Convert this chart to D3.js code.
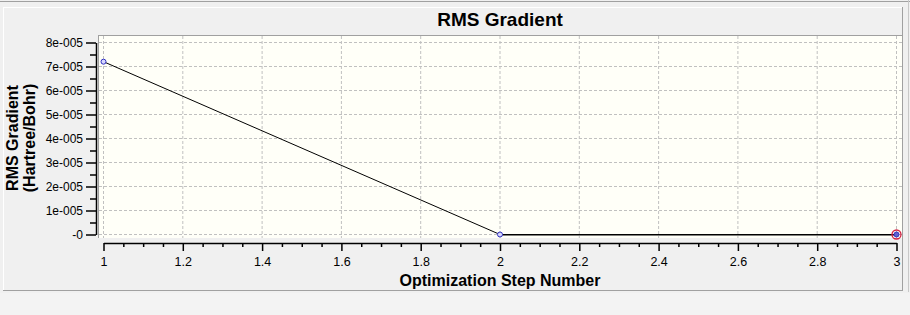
<!DOCTYPE html>
<html><head><meta charset="utf-8">
<script src="https://cdn.jsdelivr.net/npm/d3@7"></script>
<style>
html,body{margin:0;padding:0;background:#f0f0f0;}
svg{display:block;font-family:"Liberation Sans",Arial,sans-serif;}
</style></head>
<body>
<svg id="c" width="910" height="315"></svg>
<script>
const steps = [1, 2, 3];
const rmsGradient = [7.2e-5, 0.0, 0.0];
const xTicks = [1, 1.2, 1.4, 1.6, 1.8, 2, 2.2, 2.4, 2.6, 2.8, 3];
const xTickLabels = ["1","1.2","1.4","1.6","1.8","2","2.2","2.4","2.6","2.8","3"];
const xMinorTicks = [1.05,1.1,1.15,1.25,1.3,1.35,1.45,1.5,1.55,1.65,1.7,1.75,1.85,1.9,1.95,2.05,2.1,2.15,2.25,2.3,2.35,2.45,2.5,2.55,2.65,2.7,2.75,2.85,2.9,2.95];
const yTicks = [0, 1e-5, 2e-5, 3e-5, 4e-5, 5e-5, 6e-5, 7e-5, 8e-5];
const yTickLabels = ["-0","1e-005","2e-005","3e-005","4e-005","5e-005","6e-005","7e-005","8e-005"];
const yMinorTicks = [0.5e-5, 1.5e-5, 2.5e-5, 3.5e-5, 4.5e-5, 5.5e-5, 6.5e-5, 7.5e-5];
const chartTitle = "RMS Gradient";
const xTitle = "Optimization Step Number";
const yTitleLines = ["RMS Gradient", "(Hartree/Bohr)"];

const svg = d3.select("#c");
// frame
svg.append("rect").attr("x",0).attr("y",0).attr("width",910).attr("height",315).attr("fill","#f0f0f0");
svg.append("line").attr("x1",0).attr("x2",910).attr("y1",1.5).attr("y2",1.5).attr("stroke","#a0a0a0");
svg.append("rect").attr("x",3.5).attr("y",7.5).attr("width",899).attr("height",283)
  .attr("fill","#f0f0f0").attr("stroke","#ffffff");
svg.append("line").attr("x1",3).attr("x2",903).attr("y1",290.5).attr("y2",290.5).attr("stroke","#a0a0a0");
svg.append("line").attr("x1",902.5).attr("x2",902.5).attr("y1",7).attr("y2",291).attr("stroke","#a0a0a0");
svg.append("line").attr("x1",908.5).attr("x2",908.5).attr("y1",0).attr("y2",292).attr("stroke","#c8c8c8");
svg.append("rect").attr("x",0).attr("y",293).attr("width",910).attr("height",22).attr("fill","#f3f3f3");

const x = d3.scaleLinear().domain([1,3]).range([103.5, 896.5]);
const y = d3.scaleLinear().domain([0,8e-5]).range([234.5, 42.5]);

// plot background
svg.append("rect").attr("x",98).attr("y",35).attr("width",804).attr("height",203).attr("fill","#fffff8");
svg.append("line").attr("x1",98).attr("x2",902).attr("y1",35.5).attr("y2",35.5).attr("stroke","#a0a0a0");
svg.append("line").attr("x1",98.5).attr("x2",98.5).attr("y1",35).attr("y2",238).attr("stroke","#a0a0a0");

// grid
const grid = svg.append("g").attr("stroke","#c0c0c0").attr("stroke-dasharray","3,2");
grid.selectAll("line.v").data(xTicks).join("line").attr("class","v")
  .attr("x1",d=>x(d)).attr("x2",d=>x(d)).attr("y1",36).attr("y2",238);
grid.selectAll("line.h").data(yTicks).join("line").attr("class","h")
  .attr("x1",99).attr("x2",902).attr("y1",d=>y(d)).attr("y2",d=>y(d));

// line
const line = d3.line().x((d,i)=>x(steps[i])).y(d=>y(d));
svg.append("path").datum(rmsGradient).attr("d",line).attr("fill","none").attr("stroke","#000").attr("stroke-width",1);
svg.append("line").attr("x1",x(2)).attr("x2",x(3)).attr("y1",y(0)+0.5).attr("y2",y(0)+0.5).attr("stroke","#000").attr("stroke-width",1);

// markers
const n = steps.length;
svg.selectAll("circle.pt").data(rmsGradient).join("circle").attr("class","pt")
  .attr("cx",(d,i)=>x(steps[i])).attr("cy",d=>y(d)).attr("r",2.5)
  .attr("fill",(d,i)=>i===n-1?"#6060d0":"#d8d8ff").attr("stroke","#3030c0").attr("stroke-width",1);
svg.append("circle").attr("cx",x(steps[n-1])).attr("cy",y(rmsGradient[n-1])).attr("r",4.5)
  .attr("fill","none").attr("stroke","#d02040").attr("stroke-width",1.3);

// y axis
const yAxis = d3.axisLeft(y).tickValues(yTicks).tickSize(10).tickSizeOuter(0).tickPadding(3)
  .tickFormat((d,i)=>yTickLabels[i]);
const ya = svg.append("g").attr("transform","translate(96,0)").call(yAxis);
const yAxisMinor = d3.axisLeft(y).tickValues(yMinorTicks).tickSize(6).tickSizeOuter(0).tickFormat("");
svg.append("g").attr("transform","translate(96,0)").call(yAxisMinor).select(".domain").remove();
ya.selectAll("text").attr("font-size",12).attr("fill","#000").attr("font-family","Liberation Sans, Arial, sans-serif");

// x axis
const xAxis = d3.axisBottom(x).tickValues(xTicks).tickSize(8).tickSizeOuter(0).tickPadding(6)
  .tickFormat((d,i)=>xTickLabels[i]);
const xa = svg.append("g").attr("transform","translate(0,243)").call(xAxis);
const xAxisMinor = d3.axisBottom(x).tickValues(xMinorTicks).tickSize(4).tickSizeOuter(0).tickFormat("");
svg.append("g").attr("transform","translate(0,243)").call(xAxisMinor).select(".domain").remove();
xa.selectAll("text").attr("font-size",12.5).attr("fill","#000").attr("font-family","Liberation Sans, Arial, sans-serif");
svg.selectAll(".domain, .tick line").attr("stroke","#000").attr("stroke-width",1.5);

// titles
svg.append("text").attr("x",500).attr("y",26).attr("text-anchor","middle")
  .attr("font-size",19).attr("font-weight","bold").attr("fill","#000").text(chartTitle);
svg.append("text").attr("x",500).attr("y",286).attr("text-anchor","middle")
  .attr("font-size",16).attr("font-weight","bold").attr("fill","#000").text(xTitle);
yTitleLines.forEach((t,i)=>{
  svg.append("text").attr("transform",`translate(${18+i*17},138) rotate(-90)`)
    .attr("text-anchor","middle").attr("font-size",16).attr("font-weight","bold").attr("fill","#000").text(t);
});
</script>
</body></html>
